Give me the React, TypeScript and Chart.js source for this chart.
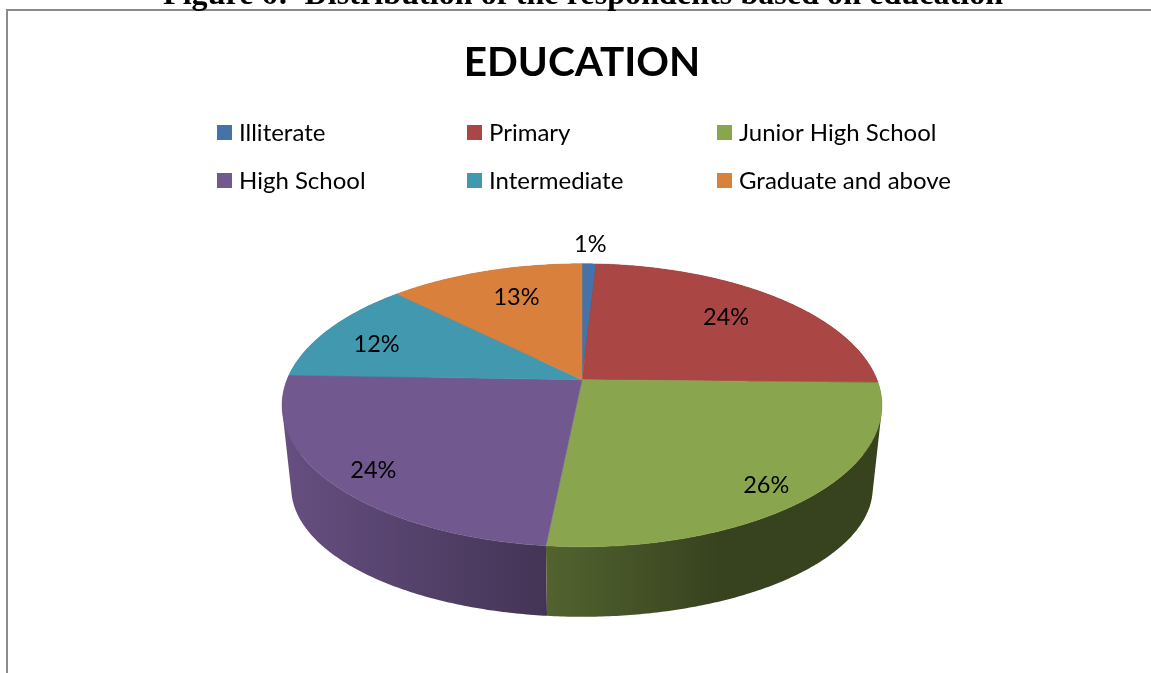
import React, { useEffect, useRef } from "react";
import { Chart, registerables } from "chart.js";

Chart.register(...registerables);

const chartTitle = "EDUCATION";
const figureCaption = "Figure 6:  Distribution of the respondents based on education";
const categories = ["Illiterate", "Primary", "Junior High School", "High School", "Intermediate", "Graduate and above"];
const shares = [0.9, 24.4, 26.3, 23.95, 11.95, 12.5];
const colours = ["#4573A7", "#AA4644", "#89A54E", "#71588F", "#4198AF", "#D9803C"];
const labelRadii = [1.2, 0.725, 0.87, 0.866, 0.78, 0.717];
const labelTurns = [0, 0, 2.5, -2, -3, 2.2];

const UI_FONT = "Lato, 'Open Sans', sans-serif";
const PERSP = -0.18;
const TOP_Y_SCALE = 136.9 / 295;
const RIM = { k: 286 / 295, dy: 84.8, yScale: 124.8 / 295 };

function project(cx: number, cy: number, r: number, a: number, rad = 1, yScale = TOP_Y_SCALE, k = 1) {
  const u = Math.cos(a) * rad;
  const v = Math.sin(a) * rad;
  const w = 1 + PERSP * v;
  return { x: cx + (r * k * u) / w, y: cy + (r * yScale * v) / w };
}

function rgb(hex: string) {
  return [1, 3, 5].map((i) => parseInt(hex.slice(i, i + 2), 16));
}
function shade(hex: string, f: number) {
  const [r, g, b] = rgb(hex);
  return `rgb(${Math.round(r * f)},${Math.round(g * f)},${Math.round(b * f)})`;
}

const pie3d = {
  id: "pie3d",
  beforeDraw(chart: any) {
    const { ctx } = chart;
    ctx.save();
    ctx.fillStyle = "#8C8C8C";
    ctx.fillRect(6, 9, chart.width - 6, 2);
    ctx.fillRect(6, 9, 2, chart.height - 9);
    ctx.restore();
  },
  beforeDatasetsDraw(chart: any) {
    const { ctx } = chart;
    const arcs = chart.getDatasetMeta(0).data as any[];
    const cx = arcs[0].x;
    const cy = arcs[0].y;
    const r = arcs[0].outerRadius;
    const ds = chart.data.datasets[0];

    const order = arcs
      .map((_, i) => i)
      .sort((p, q) => {
        const mid = (i: number) => Math.sin((arcs[i].startAngle + arcs[i].endAngle) / 2);
        return mid(p) - mid(q);
      });

    ctx.save();
    for (const i of order) {
      const { startAngle: a, endAngle: b } = arcs[i];
      const n = Math.max(2, Math.ceil((b - a) / 0.01));
      const g = ctx.createLinearGradient(cx - r * 1.017, 0, cx + r * 1.017, 0);
      g.addColorStop(0, shade(colours[i], 0.9));
      g.addColorStop(0.73, shade(colours[i], 0.4));
      g.addColorStop(1, shade(colours[i], 0.4));
      ctx.fillStyle = g;
      ctx.beginPath();
      for (let s = 0; s < n; s++) {
        const t0 = a + ((b - a) * s) / n;
        const t1 = a + ((b - a) * (s + 1)) / n;
        const quad = [
          project(cx, cy, r, t0),
          project(cx, cy, r, t1),
          project(cx, cy + RIM.dy, r, t1, 1, RIM.yScale, RIM.k),
          project(cx, cy + RIM.dy, r, t0, 1, RIM.yScale, RIM.k),
        ];
        let area = 0;
        quad.forEach((p, j) => {
          const q = quad[(j + 1) % 4];
          area += p.x * q.y - q.x * p.y;
        });
        if (area < 0) quad.reverse();
        ctx.moveTo(quad[0].x, quad[0].y);
        ctx.lineTo(quad[1].x, quad[1].y);
        ctx.lineTo(quad[2].x, quad[2].y);
        ctx.lineTo(quad[3].x, quad[3].y);
        ctx.closePath();
      }
      ctx.fill("nonzero");
    }
    arcs.forEach((arc, i) => {
      const { startAngle: a, endAngle: b } = arc;
      const n = Math.max(2, Math.ceil((b - a) / 0.01));
      ctx.beginPath();
      ctx.moveTo(cx, cy);
      for (let s = 0; s <= n; s++) {
        const p = project(cx, cy, r, a + ((b - a) * s) / n);
        ctx.lineTo(p.x, p.y);
      }
      ctx.closePath();
      ctx.fillStyle = ds.backgroundColor[i];
      ctx.strokeStyle = ds.backgroundColor[i];
      ctx.lineWidth = 0.5;
      ctx.fill();
      ctx.stroke();
    });

    ctx.fillStyle = "#000";
    ctx.font = `23.5px ${UI_FONT}`;
    ctx.textAlign = "center";
    ctx.textBaseline = "middle";
    arcs.forEach((arc, i) => {
      const mid = (arc.startAngle + arc.endAngle) / 2 + (labelTurns[i] * Math.PI) / 180;
      const p = project(cx, cy, r, mid, labelRadii[i]);
      ctx.fillText(`${Math.round(shares[i])}%`, p.x, p.y);
    });
    ctx.restore();
    return false;
  },
  afterDraw(chart: any) {
    const { ctx } = chart;
    const ds = chart.data.datasets[0];
    ctx.save();
    ctx.font = `24px ${UI_FONT}`;
    ctx.textAlign = "left";
    ctx.textBaseline = "middle";
    (chart.data.labels as string[]).forEach((label, i) => {
      const col = i % 3;
      const row = Math.floor(i / 3);
      const x = 217 + col * 250;
      const y = 125 + row * 48;
      ctx.fillStyle = ds.backgroundColor[i];
      ctx.fillRect(x, y, 15, 15);
      ctx.fillStyle = "#000";
      ctx.fillText(label, x + 22, y + 8.5);
    });
    ctx.restore();
  },
};

export default function App() {
  const ref = useRef<HTMLCanvasElement>(null);
  useEffect(() => {
    const chart = new Chart(ref.current as HTMLCanvasElement, {
      type: "pie",
      data: {
        labels: categories,
        datasets: [{ data: shares, backgroundColor: colours, borderWidth: 0, radius: 295 }],
      },
      options: {
        responsive: false,
        animation: false,
        devicePixelRatio: 1,
        layout: { padding: { left: 13, top: 0, right: 0, bottom: 1 } },
        plugins: {
          legend: { display: false },
          tooltip: { enabled: false },
          title: {
            display: true,
            text: chartTitle,
            color: "#000",
            font: { family: UI_FONT, size: 40.5, weight: "bold" },
            padding: { top: 39, bottom: 0 },
          },
        },
      },
      plugins: [pie3d],
    } as any);
    return () => chart.destroy();
  }, []);
  return (
    <div style={{ position: "fixed", left: 0, top: 0, width: 1151, height: 673, overflow: "hidden", background: "#fff" }}>
      <canvas ref={ref} width={1151} height={673} style={{ display: "block" }} />
      <div
        style={{
          position: "absolute",
          left: 163,
          top: -25,
          font: "bold 32px 'Liberation Serif', serif",
          lineHeight: "36px",
          letterSpacing: "0.08px",
          whiteSpace: "pre",
          color: "#000",
        }}
      >
        {figureCaption}
      </div>
    </div>
  );
}
